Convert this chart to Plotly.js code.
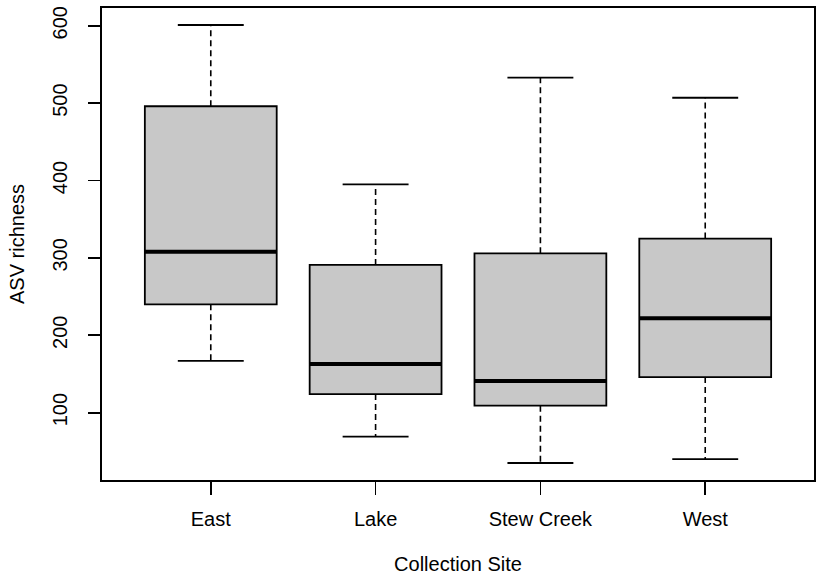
<!DOCTYPE html>
<html>
<head>
<meta charset="utf-8">
<script src="https://cdn.plot.ly/plotly-3.0.1.min.js"></script>
<style>html,body{margin:0;padding:0;background:#fff;}#chart{width:817px;height:579px;}</style>
</head>
<body>
<div id="chart"></div>
<script>
const sites = ['East', 'Lake', 'Stew Creek', 'West'];
const lowerWhisker = [167, 69, 35, 40];
const q1 = [240, 124, 109, 146];
const median = [308, 163, 141, 222];
const q3 = [496, 291, 306, 325];
const upperWhisker = [601, 395, 533, 507];
const yTicks = [100, 200, 300, 400, 500, 600];

const pos = sites.map((s, i) => i + 1);
const halfBox = 0.4, halfCap = 0.2;

const boxTrace = {
  type: 'box', x: pos, q1: q1, median: median, q3: q3,
  lowerfence: q1, upperfence: q3, width: 0.8,
  fillcolor: 'rgb(200,200,200)', line: {color: '#000', width: 1.8},
  whiskerwidth: 0, hoverinfo: 'skip', showlegend: false
};

const wx = [], wy = [], cx = [], cy = [], mx = [], my = [];
pos.forEach((p, i) => {
  wx.push(p, p, null, p, p, null);
  wy.push(q3[i], upperWhisker[i], null, q1[i], lowerWhisker[i], null);
  cx.push(p - halfCap, p + halfCap, null, p - halfCap, p + halfCap, null);
  cy.push(upperWhisker[i], upperWhisker[i], null, lowerWhisker[i], lowerWhisker[i], null);
  mx.push(p - halfBox, p + halfBox, null);
  my.push(median[i], median[i], null);
});

const whiskers = {type: 'scatter', mode: 'lines', x: wx, y: wy, line: {color: '#000', width: 1.6, dash: '6px,4px'}, hoverinfo: 'skip', showlegend: false};
const caps = {type: 'scatter', mode: 'lines', x: cx, y: cy, line: {color: '#000', width: 1.8}, hoverinfo: 'skip', showlegend: false};
const meds = {type: 'scatter', mode: 'lines', x: mx, y: my, line: {color: '#000', width: 4}, hoverinfo: 'skip', showlegend: false};

const font = {family: 'Liberation Sans, Arial, sans-serif', size: 20, color: '#000'};

const layout = {
  width: 817, height: 579,
  margin: {l: 102, r: 3, t: 8, b: 99},
  paper_bgcolor: '#fff', plot_bgcolor: '#fff',
  font: font, showlegend: false,
  xaxis: {
    range: [0.34, 4.66], tickvals: pos, ticktext: sites,
    ticks: 'outside', ticklen: 13, tickwidth: 1.8, tickcolor: '#000',
    showline: true, mirror: true, linecolor: '#000', linewidth: 2,
    showgrid: false, zeroline: false, ticklabelstandoff: 7,
    title: {text: 'Collection Site', font: font, standoff: 28}, automargin: false
  },
  yaxis: {
    range: [13, 623], tickvals: yTicks,
    ticks: 'outside', ticklen: 12, tickwidth: 1.8, tickcolor: '#000',
    showline: true, mirror: true, linecolor: '#000', linewidth: 2,
    showgrid: false, zeroline: false, tickangle: -90, ticklabelstandoff: 13,
    title: {text: 'ASV richness', font: font, standoff: 19}, automargin: false
  }
};

Plotly.newPlot('chart', [boxTrace, whiskers, caps, meds], layout, {staticPlot: true, displayModeBar: false});
</script>
</body>
</html>
